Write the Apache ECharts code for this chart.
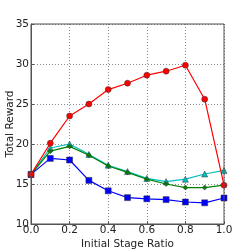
<!DOCTYPE html>
<html><head><meta charset="utf-8">
<script src="https://cdn.jsdelivr.net/npm/echarts@6/dist/echarts.min.js"></script>
<style>html,body{margin:0;padding:0;background:#fff}#c{width:249px;height:249px}</style>
</head><body><div id="c"></div>
<script>
const xValues = [0.0, 0.1, 0.2, 0.3, 0.4, 0.5, 0.6, 0.7, 0.8, 0.9, 1.0];
const redValues = [16.2, 20.1, 23.5, 25.0, 26.8, 27.6, 28.6, 29.1, 29.85, 25.6, 14.85];
const cyanValues = [16.2, 19.5, 20.0, 18.7, 17.35, 16.55, 15.7, 15.3, 15.6, 16.25, 16.7];
const greenValues = [16.2, 19.1, 19.7, 18.6, 17.25, 16.45, 15.6, 15.0, 14.55, 14.55, 14.85];
const blueValues = [16.2, 18.2, 18.0, 15.45, 14.15, 13.3, 13.15, 13.05, 12.75, 12.65, 13.25];

const chart = echarts.init(document.getElementById('c'), null, {renderer: 'canvas'});
const font = 'DejaVu Sans';
function pairs(v){ return xValues.map((x,i)=>[x, v[i]]); }
function s(name, vals, color, symbol, size, z){
  return {name, type:'line', data:pairs(vals), symbol, symbolSize:size, z,
    lineStyle:{color, width:1.2}, itemStyle:{color, borderColor:'#333', borderWidth:0.5},
    emphasis:{disabled:true}, animation:false};
}
chart.setOption({
  animation:false,
  grid:{left:31, right:25, top:24, bottom:25, containLabel:false, outerBoundsMode:'none'},
  xAxis:{type:'value', min:0, max:1, interval:0.2,
    name:'Initial Stage Ratio', nameLocation:'middle', nameGap:15, nameMoveOverlap:false,
    nameTextStyle:{fontFamily:font, fontSize:10.5, color:'#222'},
    axisLine:{lineStyle:{color:'#555', width:1}},
    axisTick:{inside:true, length:3, lineStyle:{color:'#555'}},
    axisLabel:{fontFamily:font, fontSize:10.5, color:'#222', margin:1, formatter:v=>v.toFixed(1)},
    splitLine:{show:true, lineStyle:{type:[1,2], color:'#888'}}},
  yAxis:{type:'value', min:10, max:35, interval:5,
    name:'Total Reward', nameLocation:'middle', nameGap:15, nameMoveOverlap:false,
    nameTextStyle:{fontFamily:font, fontSize:10.5, color:'#222'},
    axisLine:{lineStyle:{color:'#555', width:1}},
    axisTick:{inside:true, length:3, lineStyle:{color:'#555'}},
    axisLabel:{fontFamily:font, fontSize:10.5, color:'#222', margin:2},
    splitLine:{show:true, lineStyle:{type:[1,2], color:'#888'}}},
  series:[
    s('red', redValues, '#ff0000', 'circle', 6, 4),
    s('blue', blueValues, '#0000ff', 'rect', 6, 3),
    s('green', greenValues, '#008000', 'diamond', 5, 2),
    s('cyan', cyanValues, '#00bfbf', 'triangle', 6, 1)
  ]
});
chart.setOption({graphic:[{type:'rect', shape:{x:31, y:24, width:193, height:200}, style:{fill:null, stroke:'#555', lineWidth:1}, silent:true, z:10}]});
</script></body></html>
